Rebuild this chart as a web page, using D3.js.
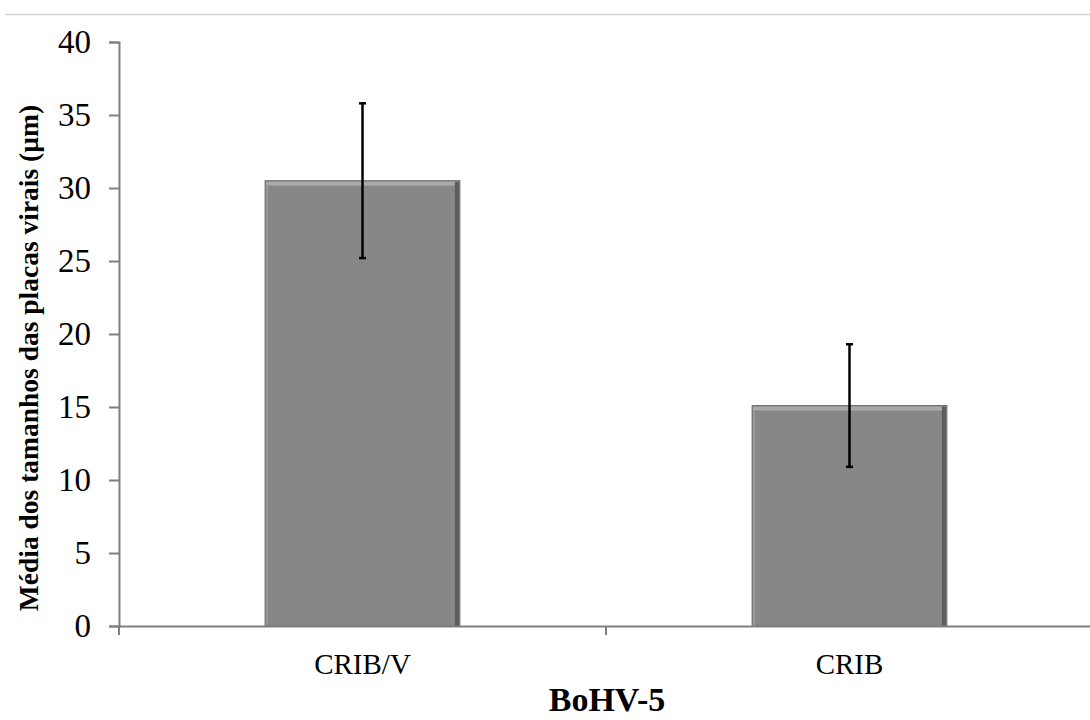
<!DOCTYPE html>
<html>
<head>
<meta charset="utf-8">
<script src="https://cdn.jsdelivr.net/npm/d3@7"></script>
<style>
  body { margin: 0; background: #fff; }
  svg { display: block; }
</style>
</head>
<body>
<div id="chart"></div>
<script>
var categories = ["CRIB/V", "CRIB"];
var means = [30.5, 15.1];
var errors = [5.3, 4.2];
var yTicks = [0, 5, 10, 15, 20, 25, 30, 35, 40];

var W = 1090, H = 720;
var margin = { left: 119, right: -3, top: 42, bottom: 94 };

var svg = d3.select("#chart").append("svg")
    .attr("width", W)
    .attr("height", H);

// thin rule along the top
svg.append("line")
    .attr("x1", 5).attr("x2", W)
    .attr("y1", 14.5).attr("y2", 14.5)
    .style("stroke", "#d4d4d4")
    .style("stroke-width", 1.5);

var x = d3.scaleBand()
    .domain(categories)
    .range([margin.left, W - margin.right])
    .padding(0);

var y = d3.scaleLinear()
    .domain([0, 40])
    .range([H - margin.bottom, margin.top]);

var barW = x.bandwidth() * 0.4;

// bars with a bevelled look
var bars = svg.append("g").selectAll("g")
    .data(categories)
    .enter().append("g");

bars.append("rect")
    .attr("x", function (d) { return x(d) + (x.bandwidth() - barW) / 2; })
    .attr("y", function (d, i) { return y(means[i]); })
    .attr("width", barW)
    .attr("height", function (d, i) { return y(0) - y(means[i]); })
    .style("fill", "#878787")
    .style("stroke", "#6e6e6e")
    .style("stroke-width", 1);

// top highlight
bars.append("rect")
    .attr("x", function (d) { return x(d) + (x.bandwidth() - barW) / 2 + 1; })
    .attr("y", function (d, i) { return y(means[i]) + 1; })
    .attr("width", barW - 2)
    .attr("height", 4)
    .style("fill", "#a9a9a9");

// right shadow
bars.append("rect")
    .attr("x", function (d) { return x(d) + (x.bandwidth() + barW) / 2 - 5; })
    .attr("y", function (d, i) { return y(means[i]) + 1; })
    .attr("width", 4)
    .attr("height", function (d, i) { return y(0) - y(means[i]) - 1; })
    .style("fill", "#5c5c5c");

// left edge light
bars.append("rect")
    .attr("x", function (d) { return x(d) + (x.bandwidth() - barW) / 2 + 1; })
    .attr("y", function (d, i) { return y(means[i]) + 5; })
    .attr("width", 2)
    .attr("height", function (d, i) { return y(0) - y(means[i]) - 5; })
    .style("fill", "#999999");

// error bars
var err = svg.append("g").selectAll("g")
    .data(categories)
    .enter().append("g");

err.append("line")
    .attr("x1", function (d) { return x(d) + x.bandwidth() / 2; })
    .attr("x2", function (d) { return x(d) + x.bandwidth() / 2; })
    .attr("y1", function (d, i) { return y(means[i] + errors[i]); })
    .attr("y2", function (d, i) { return y(means[i] - errors[i]); })
    .style("stroke", "#000")
    .style("stroke-width", 2.5);

[1, -1].forEach(function (s) {
    err.append("line")
        .attr("x1", function (d) { return x(d) + x.bandwidth() / 2 - 3.5; })
        .attr("x2", function (d) { return x(d) + x.bandwidth() / 2 + 3.5; })
        .attr("y1", function (d, i) { return y(means[i] + s * errors[i]); })
        .attr("y2", function (d, i) { return y(means[i] + s * errors[i]); })
        .style("stroke", "#000")
        .style("stroke-width", 2.5);
});

// y axis
var yAxis = svg.append("g")
    .attr("transform", "translate(" + margin.left + ",0)")
    .call(d3.axisLeft(y).tickValues(yTicks).tickSize(10).tickPadding(18));

yAxis.select(".domain").style("stroke", "#7f7f7f").style("stroke-width", 2);
yAxis.selectAll(".tick line").style("stroke", "#7f7f7f").style("stroke-width", 2);
yAxis.selectAll(".tick text")
    .style("font-family", "'Liberation Serif', 'Times New Roman', serif")
    .style("font-size", "33px")
    .style("fill", "#000");

// x axis
var xAxis = svg.append("g")
    .attr("transform", "translate(0," + y(0) + ")")
    .call(d3.axisBottom(x).tickSize(0).tickPadding(27));

xAxis.select(".domain").style("stroke", "#7f7f7f").style("stroke-width", 2);
xAxis.selectAll(".tick text")
    .style("font-family", "'Liberation Serif', 'Times New Roman', serif")
    .style("font-size", "29px")
    .style("fill", "#000");

// category boundary ticks
xAxis.selectAll(".sep")
    .data(categories.slice(0, 1).concat(categories))
    .enter().append("line")
    .attr("class", "sep")
    .attr("x1", function (d, i) { return i === 0 ? x.range()[0] : x(d) + x.bandwidth(); })
    .attr("x2", function (d, i) { return i === 0 ? x.range()[0] : x(d) + x.bandwidth(); })
    .attr("y1", 0).attr("y2", 9)
    .style("stroke", "#7f7f7f")
    .style("stroke-width", 2);

// axis titles
svg.append("text")
    .attr("x", (x.range()[0] + x.range()[1]) / 2 + 1)
    .attr("y", 711)
    .attr("text-anchor", "middle")
    .style("font-family", "'Liberation Serif', 'Times New Roman', serif")
    .style("font-weight", "bold")
    .style("font-size", "34px")
    .text("BoHV-5");

svg.append("text")
    .attr("transform", "translate(38," + (y(20) + 24) + ") rotate(-90)")
    .attr("text-anchor", "middle")
    .style("font-family", "'Liberation Serif', 'Times New Roman', serif")
    .style("font-weight", "bold")
    .style("font-size", "27.5px")
    .text("Média dos tamanhos das placas virais (µm)");
</script>
</body>
</html>
